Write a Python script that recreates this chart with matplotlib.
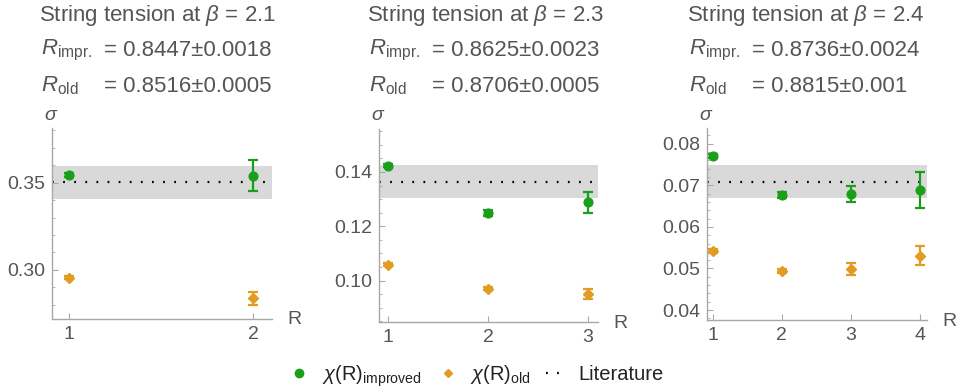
import matplotlib
matplotlib.use("Agg")
import matplotlib.pyplot as plt
from matplotlib.ticker import MultipleLocator, FormatStrFormatter
from matplotlib.lines import Line2D

plt.rcParams['font.family'] = ['Liberation Sans', 'DejaVu Sans']
plt.rcParams['mathtext.fontset'] = 'custom'
plt.rcParams['mathtext.rm'] = 'Liberation Sans'
plt.rcParams['mathtext.it'] = 'Liberation Sans:italic'
plt.rcParams['mathtext.bf'] = 'Liberation Sans:bold'

# ---------------- data ----------------
betas = ["2.1", "2.3", "2.4"]
r_impr = ["0.8447±0.0018", "0.8625±0.0023", "0.8736±0.0024"]
r_old = ["0.8516±0.0005", "0.8706±0.0005", "0.8815±0.001"]

R1 = [1, 2]
imp1 = [0.3544, 0.3540]
imp1_err = [0.0010, 0.0089]
old1 = [0.2956, 0.2838]
old1_err = [0.0008, 0.0037]
lit1, lit1_err = 0.3503, 0.0095

R2 = [1, 2, 3]
imp2 = [0.1423, 0.1249, 0.1288]
imp2_err = [0.0006, 0.0012, 0.0040]
old2 = [0.1059, 0.0971, 0.0951]
old2_err = [0.0005, 0.0006, 0.0020]
lit2, lit2_err = 0.1364, 0.0061

R3 = [1, 2, 3, 4]
imp3 = [0.0771, 0.0677, 0.0680, 0.0689]
imp3_err = [0.0004, 0.0007, 0.0019, 0.0044]
old3 = [0.0542, 0.0494, 0.0498, 0.0531]
old3_err = [0.0004, 0.0005, 0.0014, 0.0022]
lit3, lit3_err = 0.0709, 0.0040

panels = [
    dict(R=R1, imp=imp1, imp_err=imp1_err, old=old1, old_err=old1_err, lit=lit1, lit_err=lit1_err,
         xlim=(0.908, 2.103), ylim=(0.2719, 0.3813), major=0.05, minor=0.01),
    dict(R=R2, imp=imp2, imp_err=imp2_err, old=old2, old_err=old2_err, lit=lit2, lit_err=lit2_err,
         xlim=(0.91, 3.10), ylim=(0.0848, 0.1558), major=0.02, minor=0.005),
    dict(R=R3, imp=imp3, imp_err=imp3_err, old=old3, old_err=old3_err, lit=lit3, lit_err=lit3_err,
         xlim=(0.919, 4.107), ylim=(0.0376, 0.0838), major=0.01, minor=0.002),
]

# ---------------- layout ----------------
W, H = 963, 392
fig = plt.figure(figsize=(W / 100, H / 100), dpi=100)

green = '#1a9f1a'
orange = '#e19c24'
axcol = '#a8a8a8'
txtcol = '#555555'

# axes pixel boxes: left, top, right, bottom
boxes = [(52, 128, 272, 319), (379, 129, 598, 322), (707, 128, 927, 320)]
title_x = [39, 367, 687]

for p, box, tx, beta, ri, ro in zip(panels, boxes, title_x, betas, r_impr, r_old):
    l, t, r, b = box
    ax = fig.add_axes([l / W, 1 - b / H, (r - l) / W, (b - t) / H])
    ax.axhspan(p['lit'] - p['lit_err'], p['lit'] + p['lit_err'], color='#d9d9d9', lw=0, zorder=0)
    ax.axhline(p['lit'], color='black', lw=1.6, linestyle=(0, (0.8, 4.2)), zorder=1)
    ax.errorbar(p['R'], p['imp'], yerr=p['imp_err'], fmt='o', color=green, ms=6.3,
                capsize=3.5, elinewidth=1.6, capthick=1.6, zorder=3)
    ax.errorbar(p['R'], p['old'], yerr=p['old_err'], fmt='D', color=orange, ms=5.2,
                capsize=3.5, elinewidth=1.6, capthick=1.6, zorder=3)
    ax.set_xlim(*p['xlim'])
    ax.set_ylim(*p['ylim'])
    ax.set_xticks(p['R'])
    ax.yaxis.set_major_locator(MultipleLocator(p['major']))
    ax.yaxis.set_minor_locator(MultipleLocator(p['minor']))
    ax.yaxis.set_major_formatter(FormatStrFormatter('%.2f'))
    for s in ['top', 'right']:
        ax.spines[s].set_visible(False)
    for s in ['left', 'bottom']:
        ax.spines[s].set_color(axcol)
        ax.spines[s].set_linewidth(1.0)
    ax.tick_params(axis='both', which='major', direction='in', length=4, width=0.8,
                   color=axcol, labelcolor=txtcol, labelsize=14, pad=5)
    ax.tick_params(axis='both', which='minor', direction='in', length=2.5, width=0.6, color=axcol)
    ax.set_facecolor('none')
    # axis labels
    fig.text((l - 1) / W, 1 - (t - 13) / H, r'$\sigma$', fontsize=14, color=txtcol,
             ha='center', va='center')
    fig.text((r + 22) / W, 1 - (b + 1) / H, 'R', fontsize=14, color=txtcol,
             ha='center', va='center')
    # titles
    fig.text(tx / W, 1 - 16 / H, 'String tension at $\\beta$ = ' + beta, fontsize=16,
             color=txtcol, ha='left', va='center')
    fig.text((tx + 2) / W, 1 - 50 / H, r'$R_{\mathrm{impr.}}$', fontsize=16,
             color=txtcol, ha='left', va='center')
    fig.text((tx + 65) / W, 1 - 50 / H, '= ' + ri, fontsize=16,
             color=txtcol, ha='left', va='center')
    fig.text((tx + 2) / W, 1 - 86 / H, r'$R_{\mathrm{old}}$', fontsize=16,
             color=txtcol, ha='left', va='center')
    fig.text((tx + 65) / W, 1 - 86 / H, '= ' + ro, fontsize=16,
             color=txtcol, ha='left', va='center')

handles = [
    Line2D([], [], marker='o', color=green, ls='none', ms=6),
    Line2D([], [], marker='D', color=orange, ls='none', ms=4.5),
    Line2D([], [], color='black', lw=1.6, ls=(0, (0.8, 4.2))),
]
labels = [r'$\chi(\mathrm{R})_{\mathrm{improved}}$', r'$\chi(\mathrm{R})_{\mathrm{old}}$', 'Literature']
fig.legend(handles, labels, loc='center', bbox_to_anchor=(0.495, 1 - 376 / H), ncol=3,
           frameon=False, fontsize=14.5, handlelength=1.0, handletextpad=0.6,
           columnspacing=0.8, labelcolor='#222222')

fig.savefig('out.png', dpi=100)
